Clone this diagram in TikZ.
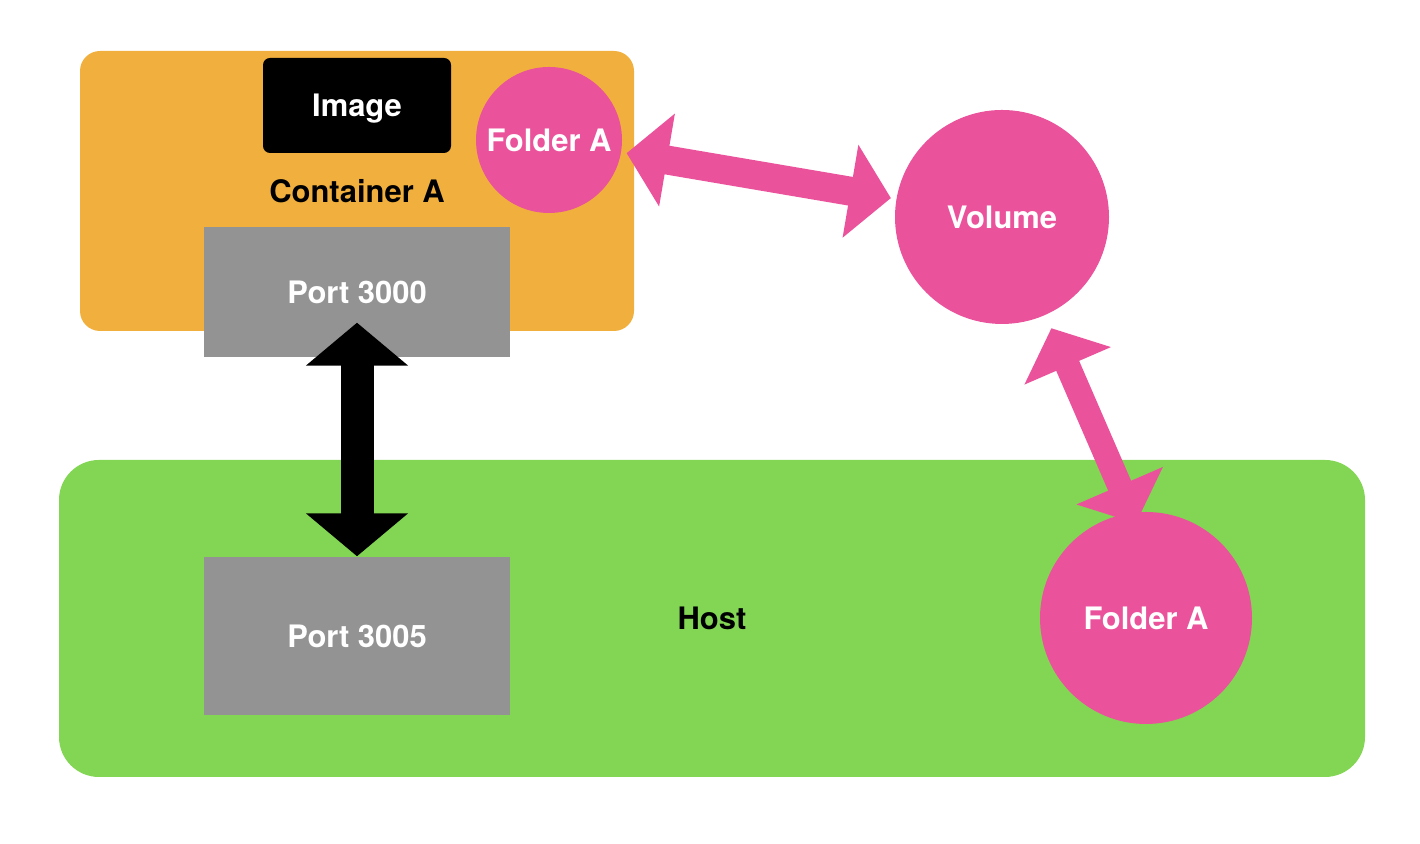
\documentclass[tikz,border=0pt]{standalone}
\usepackage{fontspec}
\setmainfont{TeX Gyre Heros}
\usetikzlibrary{arrows.meta,positioning}

\definecolor{contorange}{HTML}{F1B03E}
\definecolor{hostgreen}{HTML}{83D654}
\definecolor{portgray}{HTML}{939393}
\definecolor{folderpink}{HTML}{EA539C}

\begin{document}
\begin{tikzpicture}
    \tikzset{area/.style={rectangle, inner sep=0pt, text=black}}
    \tikzset{portbox/.style={rectangle, fill=portgray, text=white, inner sep=0pt, minimum width=3.06cm}}
    \tikzset{folder/.style={circle, fill=folderpink, text=white, inner sep=0pt}}
    \tikzset{pinkarrow/.style={{Triangle[width=0.92cm,length=0.41cm]}-{Triangle[width=0.92cm,length=0.41cm]}, draw=folderpink}}
    \tikzset{portarrow/.style={{Triangle[width=1cm,length=0.43cm]}-{Triangle[width=1cm,length=0.43cm]}, draw=black, line width=0.33cm}}
  \fontsize{8.8}{10}\selectfont\bfseries
  %\draw[step=1cm,gray,very thin] (0,0) grid (14.2,8.44);
  \useasboundingbox (0,0) rectangle (14.2,8.44);

\node[area, fill=hostgreen, rounded corners=0.4cm, minimum width=13.06cm, minimum height=3.17cm] (H) at (7.12,2.255) {Host};
\node[area, fill=contorange, rounded corners=0.2cm, minimum width=5.54cm, minimum height=2.8cm] (CA) at (3.57,6.53) {Container A};

\node[rectangle, fill=black, text=white, rounded corners=0.07cm, text depth=0pt, minimum width=1.88cm, minimum height=0.95cm] (IMG) at (3.57,7.385) {Image};
\node[folder, minimum size=1.46cm] (FA1) at (5.49,7.04) {Folder A};

\node[portbox, minimum height=1.3cm] (P1) at (3.57,5.52) {Port 3000};
\node[portbox, minimum height=1.58cm] (P2) at (3.57,2.08) {Port 3005};

\node[folder, minimum size=2.14cm] (VOL) at (10.02,6.27) {Volume};
\node[folder, minimum size=2.12cm] (FA2) at (11.46,2.26) {Folder A};

\draw [portarrow] ([yshift=0.35cm]P1.south) -- (P2.north);

\draw [pinkarrow, line width=0.29cm, shorten <=0.05cm, shorten >=0.05cm] (FA1) -- (VOL);
\draw [pinkarrow, line width=0.25cm, shorten <=0.14cm, shorten >=-0.12cm] (VOL.-66) -- (FA2.98);

\end{tikzpicture}
\end{document}
